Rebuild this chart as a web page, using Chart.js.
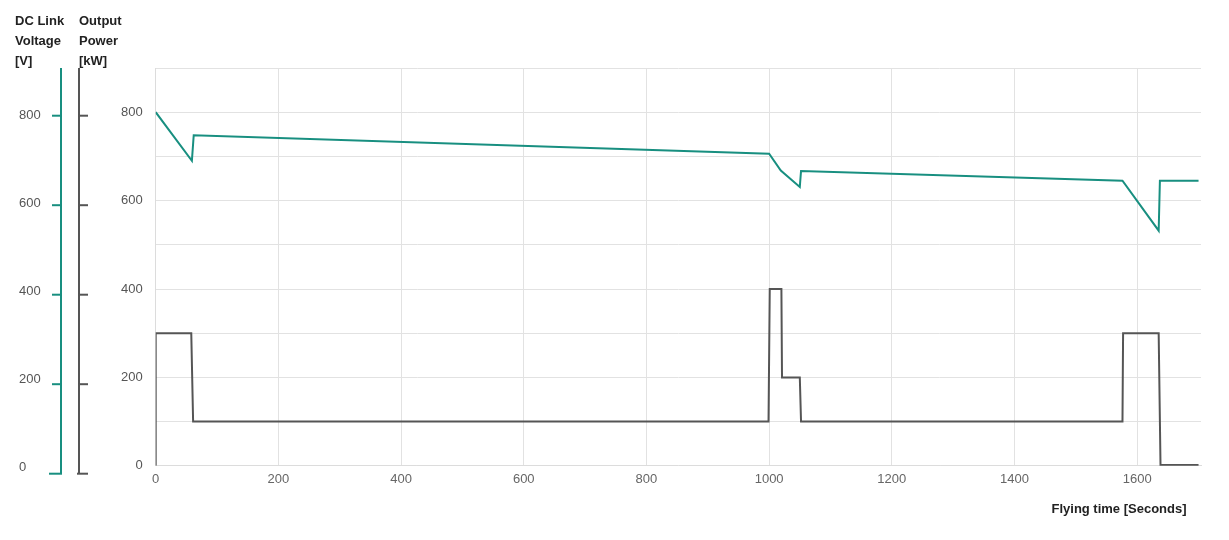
<!DOCTYPE html>
<html>
<head>
<meta charset="utf-8">
<script src="https://cdn.jsdelivr.net/npm/chart.js@4"></script>
<style>
html, body { margin: 0; padding: 0; background: #fff; }
</style>
</head>
<body>
<canvas id="flightChart" width="1229" height="540"></canvas>
<script>
// DC link voltage [V] over flying time [s]
var voltageTime = [0, 59, 62, 1000, 1019, 1050, 1052, 1576, 1635, 1637, 1700];
var voltage = [800, 690, 748, 706, 668, 631, 667, 645, 532, 645, 645];

// output power [kW] over flying time [s]
var powerTime = [0, 0, 58, 61, 999, 1001, 1020, 1021, 1050, 1052, 1576, 1577, 1635, 1638, 1700];
var power = [0, 300, 300, 100, 100, 400, 400, 200, 200, 100, 100, 300, 300, 2, 2];

// tick labels
var timeTicks = [0, 200, 400, 600, 800, 1000, 1200, 1400, 1600];
var valueTicks = [0, 200, 400, 600, 800];

var TEAL = '#188f80';
var DARK = '#555555';
var FONT = "'Liberation Sans', Arial, sans-serif";

function toPoints(xs, ys) {
  return xs.map(function (x, i) { return { x: x, y: ys[i] }; });
}

// the two stacked axes on the far left (voltage and power)
var sideAxes = {
  id: 'sideAxes',
  afterDraw: function (chart) {
    var ctx = chart.ctx;
    var top = chart.chartArea.top;
    var base = 473.7, per = 0.4475;
    ctx.save();

    ctx.fillStyle = '#222';
    ctx.font = 'bold 13px ' + FONT;
    ctx.textBaseline = 'middle';
    ctx.textAlign = 'left';
    ['DC Link', 'Voltage', '[V]'].forEach(function (t, i) { ctx.fillText(t, 15, 21 + i * 20); });
    ['Output', 'Power', '[kW]'].forEach(function (t, i) { ctx.fillText(t, 79, 21 + i * 20); });

    ctx.lineWidth = 2;
    // voltage axis
    ctx.strokeStyle = TEAL;
    ctx.beginPath();
    ctx.moveTo(61, top);
    ctx.lineTo(61, base);
    ctx.stroke();
    // power axis
    ctx.strokeStyle = DARK;
    ctx.beginPath();
    ctx.moveTo(79, top);
    ctx.lineTo(79, base);
    ctx.stroke();

    ctx.font = '13px ' + FONT;
    ctx.fillStyle = '#555';
    valueTicks.forEach(function (v) {
      var y = base - v * per;
      ctx.strokeStyle = TEAL;
      ctx.beginPath();
      ctx.moveTo(v === 0 ? 49 : 52, y);
      ctx.lineTo(62, y);
      ctx.stroke();
      ctx.strokeStyle = DARK;
      ctx.beginPath();
      ctx.moveTo(v === 0 ? 77 : 78, y);
      ctx.lineTo(88, y);
      ctx.stroke();
      ctx.fillText(String(v), 19, y - 6 + v * 0.0075);
    });
    ctx.restore();
  }
};

var chart = new Chart(document.getElementById('flightChart'), {
  type: 'line',
  data: {
    datasets: [{
      label: 'DC Link Voltage',
      data: toPoints(voltageTime, voltage),
      borderColor: TEAL,
      borderWidth: 2,
      pointRadius: 0,
      tension: 0,
      fill: false
    }, {
      label: 'Output Power',
      data: toPoints(powerTime, power),
      borderColor: DARK,
      borderWidth: 2,
      pointRadius: 0,
      tension: 0,
      fill: false
    }]
  },
  options: {
    responsive: false,
    animation: false,
    layout: { padding: { left: 108, right: 28, top: 68, bottom: 19 } },
    plugins: {
      legend: { display: false },
      tooltip: { enabled: false }
    },
    scales: {
      x: {
        type: 'linear',
        min: 0,
        max: 1704,
        grid: { color: '#e2e2e2', drawTicks: false },
        border: { color: '#dcdcdc' },
        ticks: {
          stepSize: 200,
          autoSkip: false,
          maxRotation: 0,
          padding: 6,
          color: '#666',
          font: { family: FONT, size: 13 },
          callback: function (v) { return timeTicks.indexOf(v) >= 0 ? String(v) : null; }
        },
        title: {
          display: true,
          text: 'Flying time [Seconds]    ',
          align: 'end',
          color: '#222',
          font: { family: FONT, size: 13, weight: 'bold' },
          padding: { top: 8, bottom: 4 }
        }
      },
      y: {
        min: 0,
        max: 900,
        grid: { color: '#e2e2e2', drawTicks: false },
        border: { color: '#dcdcdc' },
        ticks: {
          stepSize: 100,
          autoSkip: false,
          padding: 13,
          color: '#555',
          font: { family: FONT, size: 13 },
          callback: function (v) { return valueTicks.indexOf(v) >= 0 ? String(v) : ''; }
        }
      }
    }
  },
  plugins: [sideAxes]
});
</script>
</body>
</html>
